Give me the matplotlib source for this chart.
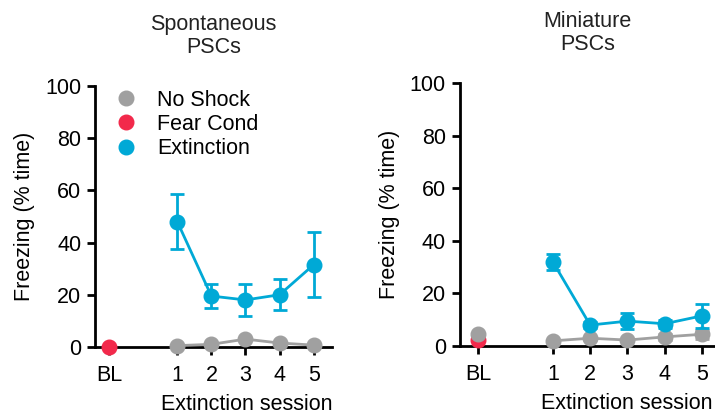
import numpy as np
import matplotlib
matplotlib.use("Agg")
from matplotlib import pyplot as plt

plt.rcParams['font.family'] = ['Liberation Sans', 'DejaVu Sans']

tick_labels = ["BL", "1", "2", "3", "4", "5"]
sessions = [1, 2, 3, 4, 5]
bl_pos = -1

# Spontaneous PSCs
spon_noshock = [0.5, 1.0, 3.0, 1.5, 0.7]
spon_fear_bl = 0.0
spon_ext = [48, 19.5, 18, 20, 31.5]
spon_ext_err = [10.5, 4.5, 6, 6, 12.5]

# Miniature PSCs
mini_noshock_bl = 4.5
mini_noshock = [2.0, 3.0, 2.3, 3.5, 4.5]
mini_noshock_err = [0.5, 0.5, 0.5, 1.0, 1.8]
mini_fear_bl = 2.5
mini_ext = [32, 8, 9.5, 8.5, 11.5]
mini_ext_err = [3, 1, 3, 1.5, 4.5]

grey = "#A0A0A0"
red = "#F2294B"
blue = "#00A9D6"
fs = 15.5

fig = plt.figure(figsize=(7.15, 4.15), dpi=100)
ax1 = fig.add_axes([0.133, 0.164, 0.331, 0.629])
ax2 = fig.add_axes([0.643, 0.166, 0.357, 0.634])

def style(ax, xmin, xmax, xlab_x):
    ax.set_xlim(xmin, xmax)
    ax.set_ylim(0, 100)
    ax.set_yticks([0, 20, 40, 60, 80, 100])
    ax.set_xticks([bl_pos] + sessions)
    ax.set_xticklabels(tick_labels)
    for s in ["top", "right"]:
        ax.spines[s].set_visible(False)
    for s in ["left", "bottom"]:
        ax.spines[s].set_linewidth(2)
    ax.tick_params(width=2, length=6, labelsize=fs, pad=4)
    ax.tick_params(axis="x", pad=7)
    ax.set_ylabel("Freezing (% time)", fontsize=fs, labelpad=7)
    ax.set_xlabel("Extinction session", fontsize=fs, x=xlab_x, labelpad=6)

ms = 10.5
lw = 2

# left panel
ax1.errorbar(sessions, spon_noshock, color=grey, marker="o", ms=ms, lw=lw, clip_on=False, zorder=3)
ax1.errorbar(sessions, spon_ext, yerr=spon_ext_err, color=blue, marker="o", ms=ms, lw=lw,
             capsize=5, capthick=2, elinewidth=2, clip_on=False, zorder=4)
ax1.plot([bl_pos], [spon_fear_bl], "o", color=red, ms=ms, clip_on=False, zorder=5)
style(ax1, -1.41, 5.53, 0.64)
ax1.set_title("Spontaneous\nPSCs", fontsize=fs, pad=24, linespacing=1.1, color="#222222")

# legend
h1, = ax1.plot([], [], "o", color=grey, ms=ms)
h2, = ax1.plot([], [], "o", color=red, ms=ms)
h3, = ax1.plot([], [], "o", color=blue, ms=ms)
ax1.legend([h1, h2, h3], ["No Shock", "Fear Cond", "Extinction"], frameon=False, fontsize=fs,
           loc="upper left", bbox_to_anchor=(-0.005, 1.06), handletextpad=0.85,
           labelspacing=0.15, handlelength=1.2)

# right panel
ax2.plot([bl_pos], [mini_fear_bl], "o", color=red, ms=ms, clip_on=False, zorder=3)
ax2.plot([bl_pos], [mini_noshock_bl], "o", color=grey, ms=ms, clip_on=False, zorder=4)
ax2.errorbar(sessions, mini_noshock, yerr=mini_noshock_err, color=grey, marker="o", ms=ms, lw=lw,
             capsize=5, capthick=2, elinewidth=2, clip_on=False, zorder=3)
ax2.errorbar(sessions, mini_ext, yerr=mini_ext_err, color=blue, marker="o", ms=ms, lw=lw,
             capsize=5, capthick=2, elinewidth=2, clip_on=False, zorder=4)
style(ax2, -1.5, 5.35, 0.655)
ax2.set_title("Miniature\nPSCs", fontsize=fs, pad=24, linespacing=1.1, color="#222222")

fig.savefig("out.png", dpi=100)
